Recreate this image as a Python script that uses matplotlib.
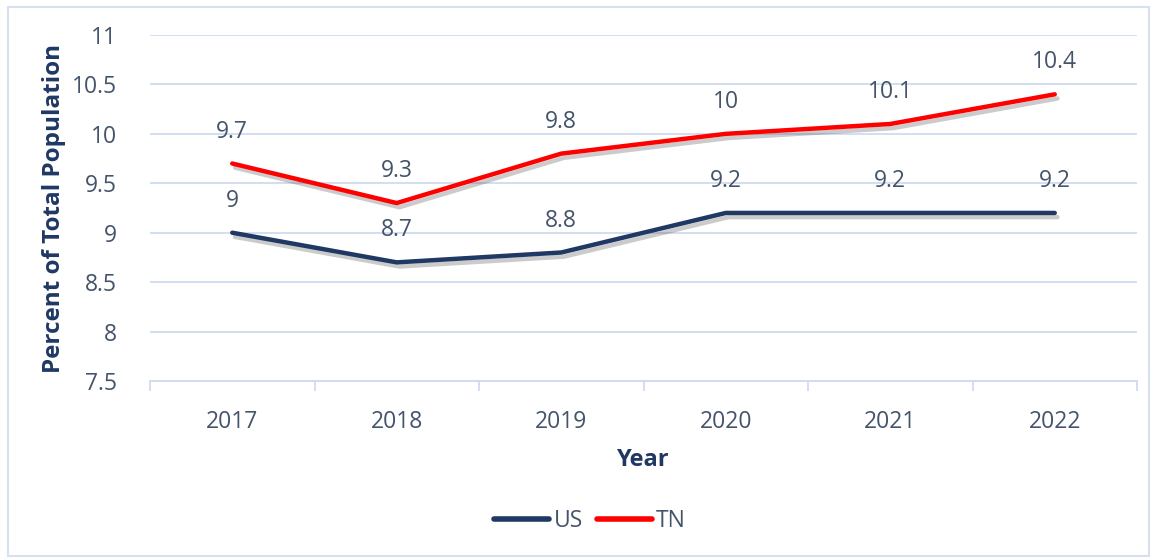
import numpy as np
import matplotlib.pyplot as plt
import matplotlib.patheffects as pe
from matplotlib.patches import Rectangle
from matplotlib.lines import Line2D

plt.rcParams['font.family'] = ['Open Sans', 'DejaVu Sans']

years = ['2017', '2018', '2019', '2020', '2021', '2022']
us = [9, 8.7, 8.8, 9.2, 9.2, 9.2]
tn = [9.7, 9.3, 9.8, 10, 10.1, 10.4]
yticks = [7.5, 8, 8.5, 9, 9.5, 10, 10.5, 11]
ytick_labels = ['7.5', '8', '8.5', '9', '9.5', '10', '10.5', '11']

navy = '#1F3864'
red = '#FF0000'
textc = '#44546A'
gridc = '#CFDBF0'
fs = 16.5

fig = plt.figure(figsize=[11.5, 5.58], dpi=100)
ax = fig.add_axes([150/1150, 1-381/558, 987/1150, 346/558])

# figure border
fig.patches.append(Rectangle((8/1150, 2/558), 1-9/1150, 1-9/558, transform=fig.transFigure,
                             fill=False, edgecolor='#D6E0F0', lw=1.5))

x = np.arange(len(years))
shadow = [pe.SimpleLineShadow(offset=(2, -3), shadow_color='#555555', alpha=0.3), pe.Normal()]
ax.plot(x, us, color=navy, lw=3.2, solid_capstyle='round', path_effects=shadow, zorder=3)
ax.plot(x, tn, color=red, lw=3.2, solid_capstyle='round', path_effects=shadow, zorder=3)

for i in range(len(years)):
    ax.annotate(f'{us[i]:g}', (x[i], us[i]), xytext=(0, 23), textcoords='offset points',
                ha='center', va='center', fontsize=fs, color=textc)
    ax.annotate(f'{tn[i]:g}', (x[i], tn[i]), xytext=(0, 23), textcoords='offset points',
                ha='center', va='center', fontsize=fs, color=textc)

ax.set_xlim(-0.5, len(years) - 0.5)
ax.set_ylim(7.5, 11)
ax.set_xticks(x)
ax.set_xticklabels(years)
ax.set_xticks(np.arange(-0.5, len(years)), minor=True)
ax.set_yticks(yticks)
ax.set_yticklabels(ytick_labels)
ax.tick_params(axis='x', which='major', length=0, pad=21, labelsize=fs, labelcolor=textc)
ax.tick_params(axis='x', which='minor', length=7, color=gridc, width=1.3)
ax.tick_params(axis='y', length=0, pad=24, labelsize=fs, labelcolor=textc)
ax.yaxis.grid(True, color=gridc, lw=1.3)
ax.set_axisbelow(True)
for s in ['top', 'right', 'left']:
    ax.spines[s].set_visible(False)
ax.spines['bottom'].set_color(gridc)
ax.spines['bottom'].set_linewidth(1.3)

ax.set_xlabel('Year', fontsize=17, fontweight='bold', color=navy, labelpad=10)
ax.set_ylabel('Percent of Total Population', fontsize=17.5, fontweight='bold', color=navy, labelpad=4)

handles = [Line2D([], [], color=navy, lw=4, solid_capstyle='round'),
           Line2D([], [], color=red, lw=4, solid_capstyle='round')]
ax.legend(handles, ['US', 'TN'], loc='center', bbox_to_anchor=(590/1150, 1-521/558),
          bbox_transform=fig.transFigure, ncol=2, frameon=False, fontsize=fs,
          handlelength=2.4, columnspacing=0.6, handletextpad=0.2, labelcolor=textc)

plt.savefig('out.png', dpi=100)
